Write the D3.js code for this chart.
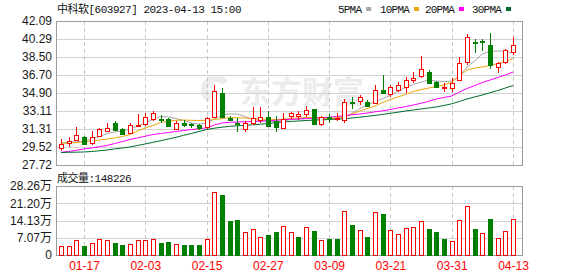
<!DOCTYPE html>
<html>
<head>
<meta charset="utf-8">
<script src="https://cdn.jsdelivr.net/npm/d3@7"></script>
<style>
  body { margin: 0; background: #fff; }
  svg { display: block; }
</style>
</head>
<body>
<svg width="578" height="276"></svg>
<script>
// trading days shown (2023)
var dates = [
  '01-12','01-13','01-16','01-17','01-18','01-19','01-20','01-30','01-31',
  '02-01','02-02','02-03','02-06','02-07','02-08','02-09','02-10','02-13','02-14','02-15',
  '02-16','02-17','02-20','02-21','02-22','02-23','02-24','02-27','02-28',
  '03-01','03-02','03-03','03-06','03-07','03-08','03-09','03-10','03-13','03-14','03-15',
  '03-16','03-17','03-20','03-21','03-22','03-23','03-24','03-27','03-28','03-29','03-30','03-31',
  '04-03','04-04','04-06','04-07','04-10','04-11','04-12','04-13'
];

var open = [29.39,29.88,30.21,30.48,29.88,30.61,31.11,31.94,31.28,30.88,
  31.62,31.81,32.31,32.35,32.28,31.34,31.95,31.80,31.68,31.44,
  32.54,34.93,32.45,31.92,31.38,31.94,32.21,32.48,32.14,31.38,
  32.54,32.58,32.81,33.28,31.81,32.50,32.34,32.21,34.00,34.11,
  34.04,33.88,35.20,34.77,35.20,35.47,36.20,36.60,37.03,36.03,
  35.45,35.47,36.20,37.93,40.00,40.10,39.69,37.53,38.03,39.03];
var high = [30.28,30.48,31.51,30.61,31.11,31.42,31.94,32.14,31.44,31.94,
  32.81,32.88,33.11,32.71,32.38,32.14,32.21,31.94,31.81,32.54,
  35.70,35.45,32.60,32.38,32.10,33.54,33.54,33.14,32.60,32.88,
  33.00,33.11,33.61,33.31,32.61,32.78,32.94,34.28,34.48,34.71,
  34.21,35.70,36.70,35.70,36.03,36.53,37.03,38.60,37.20,36.13,
  35.87,36.37,38.47,40.79,40.26,40.26,40.86,38.03,39.27,40.52];
var low = [29.15,29.55,30.11,29.71,29.71,30.54,31.04,31.21,30.71,30.81,
  31.58,31.61,32.14,31.94,31.51,31.21,31.48,31.44,31.21,31.34,
  32.48,32.38,32.20,31.04,31.04,31.71,31.88,31.54,31.00,31.28,
  32.30,32.21,32.48,31.80,31.64,31.88,32.10,31.88,33.28,33.71,
  33.54,33.81,34.87,34.54,35.04,34.87,35.87,36.37,35.87,35.47,
  35.04,35.04,36.13,37.70,38.93,39.13,37.27,36.87,37.80,38.70];
var close = [29.82,30.08,30.71,29.82,30.48,31.35,31.40,31.28,30.81,31.71,
  31.75,32.48,32.88,32.25,31.61,31.94,31.80,31.72,31.34,32.38,
  35.10,32.54,32.30,31.85,31.94,32.44,32.54,31.54,31.51,32.28,
  32.88,32.80,33.21,31.81,32.48,32.42,32.40,34.04,33.90,34.48,
  33.64,35.20,34.87,35.47,35.70,36.20,36.38,37.27,35.93,35.55,
  35.50,35.93,37.93,40.46,39.92,40.02,37.70,37.93,39.20,39.69];
var volume = [37900,35000,62400,35000,49000,65000,62400,49000,42000,45000,
  62400,62400,65000,49000,53000,45000,42000,42000,42000,65000,
  259000,246000,140000,144000,94000,106000,73000,83000,95000,117000,
  94000,73400,114200,99100,62400,66500,66500,180700,123600,103200,
  74600,176600,168400,103200,85600,111300,115400,139900,107300,95000,
  63600,58300,144000,201000,107300,89700,148000,70500,99100,148226];

var ma5 = [29.94,29.98,30.03,30.11,30.31,30.56,30.86,31.01,31.11,31.31,
  31.61,31.91,32.26,32.56,32.51,32.36,32.16,31.91,31.81,31.88,
  32.31,32.71,32.81,32.81,32.56,32.28,32.18,32.11,32.04,32.11,
  32.26,32.31,32.38,32.46,32.46,32.41,32.38,32.51,32.88,33.36,
  33.71,34.06,34.36,34.66,35.10,35.45,35.75,36.00,36.20,36.10,
  36.03,36.10,36.60,37.50,38.10,38.80,39.05,39.10,39.05,38.90];
var ma10 = [29.88,29.91,29.96,30.03,30.11,30.21,30.31,30.43,30.56,30.76,
  31.11,31.41,31.66,31.96,32.11,32.18,32.21,32.18,32.16,32.18,
  32.26,32.36,32.44,32.44,32.41,32.36,32.31,32.28,32.26,32.28,
  32.38,32.41,32.46,32.43,32.38,32.36,32.41,32.56,32.81,33.11,
  33.36,33.61,33.96,34.26,34.51,34.77,35.05,35.25,35.40,35.55,
  35.70,36.00,36.60,37.20,37.40,37.50,37.65,37.85,38.05,38.35];
var ma20 = [28.99,29.07,29.19,29.32,29.42,29.54,29.67,29.86,30.06,30.26,
  30.43,30.59,30.76,30.86,30.96,31.06,31.16,31.26,31.33,31.43,
  31.71,31.91,31.98,32.01,32.03,32.06,32.09,32.13,32.18,32.23,
  32.28,32.31,32.35,32.39,32.44,32.49,32.56,32.64,32.73,32.81,
  32.91,33.03,33.13,33.26,33.41,33.56,33.71,33.88,34.08,34.31,
  34.46,34.61,35.00,35.35,35.65,35.95,36.20,36.45,36.70,37.00];
var ma30 = [28.96,28.99,29.00,29.02,29.07,29.14,29.22,29.32,29.42,29.52,
  29.67,29.82,29.98,30.14,30.31,30.48,30.68,30.86,31.06,31.26,
  31.39,31.49,31.58,31.63,31.68,31.73,31.79,31.86,31.94,32.01,
  32.07,32.11,32.16,32.20,32.23,32.26,32.29,32.35,32.41,32.49,
  32.58,32.67,32.77,32.88,32.99,33.11,33.21,33.31,33.41,33.51,
  33.66,33.83,34.06,34.31,34.51,34.71,34.93,35.15,35.40,35.65];

var priceTicks = [27.72, 29.52, 31.31, 33.11, 34.90, 36.70, 38.50, 40.29, 42.09];
var volTicks = [0, 70650, 141300, 211950, 282600];
var volTickLabels = ['0', '7.07万', '14.13万', '21.20万', '28.26万'];
var dateTicks = ['01-17', '02-03', '02-15', '02-27', '03-09', '03-21', '03-31', '04-13'];

var maSeries = [
  { name: '5PMA', values: ma5, color: '#a6a6a6' },
  { name: '10PMA', values: ma10, color: '#f0a30a' },
  { name: '20PMA', values: ma20, color: '#ff00ff' },
  { name: '30PMA', values: ma30, color: '#006b2d' }
];

var UP = '#ff0000', DOWN = '#008000';
var sans = "'Liberation Sans', 'Noto Sans CJK SC', sans-serif";
var mono = "'Liberation Mono', 'Noto Sans CJK SC', monospace";

var svg = d3.select('svg');
var left = 56, right = 522;
var priceTop = 21, priceBottom = 165;
var volTop = 186, volBottom = 255;

var x = d3.scalePoint().domain(dates).range([61, 513]);
var y = d3.scaleLinear().domain([27.72, 42.09]).range([priceBottom, priceTop]);
var yv = d3.scaleLinear().domain([0, 282600]).range([volBottom, volTop]);

function px(d) { return Math.round(x(d)) + 0.5; }

// watermark
var wm = svg.append('g').attr('fill', '#ececec');
wm.append('path')
  .attr('transform', 'translate(216,90)')
  .attr('d', d3.arc().innerRadius(8).outerRadius(15).startAngle(-2.6).endAngle(0.9)());
wm.append('text')
  .attr('x', 240).attr('y', 103)
  .attr('font-family', "'Noto Sans CJK SC', sans-serif")
  .attr('font-weight', 'bold')
  .attr('font-size', 31)
  .text('东方财富');

// grids
function panelGrid(yScale, ticks, top, bottom) {
  var g = svg.append('g');
  g.selectAll('line.h')
    .data(ticks.slice(1, -1))
    .enter().append('line')
    .attr('x1', left).attr('x2', right)
    .attr('y1', function(d) { return Math.round(yScale(d)) + 0.5; })
    .attr('y2', function(d) { return Math.round(yScale(d)) + 0.5; })
    .attr('stroke', '#d2d2d2');
  g.selectAll('line.v')
    .data(dateTicks)
    .enter().append('line')
    .attr('x1', px).attr('x2', px)
    .attr('y1', top).attr('y2', bottom)
    .attr('stroke', '#c8c8c8')
    .attr('stroke-dasharray', '4,3');
  g.append('rect')
    .attr('x', left + 0.5).attr('y', top + 0.5)
    .attr('width', right - left).attr('height', bottom - top)
    .attr('fill', 'none')
    .attr('stroke', '#9c9c9c');
}
panelGrid(y, priceTicks, priceTop, priceBottom);
panelGrid(yv, volTicks, volTop, volBottom);

// moving averages
var line = d3.line()
  .x(function(d, i) { return x(dates[i]); })
  .y(function(d) { return y(d); });

svg.append('g').selectAll('path')
  .data(maSeries)
  .enter().append('path')
  .attr('d', function(s) { return line(s.values); })
  .attr('fill', 'none')
  .attr('stroke', function(s) { return s.color; })
  .attr('stroke-width', 1);

// candles
var candles = svg.append('g')
  .attr('shape-rendering', 'crispEdges')
  .selectAll('g')
  .data(dates)
  .enter().append('g');

function isUp(i) { return close[i] >= open[i]; }

candles.append('line')
  .attr('x1', px).attr('x2', px)
  .attr('y1', function(d, i) { return y(high[i]); })
  .attr('y2', function(d, i) { return y(low[i]); })
  .attr('stroke', function(d, i) { return isUp(i) ? UP : DOWN; });

candles.append('rect')
  .attr('x', function(d) { return px(d) - 2; })
  .attr('y', function(d, i) { return Math.round(y(Math.max(open[i], close[i]))) + 0.5; })
  .attr('width', 4)
  .attr('height', function(d, i) {
    return Math.max(0.5, Math.round(Math.abs(y(open[i]) - y(close[i]))));
  })
  .attr('fill', function(d, i) { return isUp(i) ? '#fff' : DOWN; })
  .attr('stroke', function(d, i) { return isUp(i) ? UP : DOWN; });

// volume bars, coloured by close versus previous close
function volUp(i) { return i === 0 ? isUp(0) : close[i] >= close[i - 1]; }

svg.append('g')
  .attr('shape-rendering', 'crispEdges')
  .selectAll('rect')
  .data(volume)
  .enter().append('rect')
  .attr('x', function(d, i) { return px(dates[i]) - 2; })
  .attr('y', function(d) { return Math.round(yv(d)) + 0.5; })
  .attr('width', 4)
  .attr('height', function(d) { return volBottom - Math.round(yv(d)) - 0.5; })
  .attr('fill', function(d, i) { return volUp(i) ? '#fff' : DOWN; })
  .attr('stroke', function(d, i) { return volUp(i) ? UP : DOWN; });

// axes
function styleAxis(g, color, size, family) {
  g.select('.domain').remove();
  g.selectAll('text')
    .attr('fill', color)
    .attr('font-size', size)
    .attr('font-family', family);
}

svg.append('g')
  .attr('transform', 'translate(' + left + ',0)')
  .call(d3.axisLeft(y).tickValues(priceTicks).tickFormat(d3.format('.2f')).tickSize(0).tickPadding(4))
  .call(styleAxis, '#1a1a1a', 12, sans);

svg.append('g')
  .attr('transform', 'translate(' + left + ',0)')
  .call(d3.axisLeft(yv).tickValues(volTicks)
    .tickFormat(function(d, i) { return volTickLabels[i]; })
    .tickSize(0).tickPadding(4))
  .call(styleAxis, '#1a1a1a', 12, sans);

svg.append('g')
  .attr('transform', 'translate(0,' + volBottom + ')')
  .call(d3.axisBottom(x).tickValues(dateTicks).tickSize(0).tickPadding(6))
  .call(styleAxis, UP, 12, sans);

// title and volume caption
svg.append('text')
  .attr('x', 57).attr('y', 13)
  .attr('font-family', mono).attr('font-size', 11)
  .attr('letter-spacing', '-0.5px')
  .attr('fill', '#111')
  .text('中科软[603927] 2023-04-13 15:00');

svg.append('text')
  .attr('x', 57).attr('y', 182)
  .attr('font-family', mono).attr('font-size', 11)
  .attr('letter-spacing', '-0.5px')
  .attr('fill', '#111')
  .text('成交量:' + volume[volume.length - 1]);

// legend
var legendX = [338, 380, 425, 472];
var legend = svg.append('g').selectAll('g')
  .data(maSeries)
  .enter().append('g')
  .attr('transform', function(d, i) { return 'translate(' + legendX[i] + ',0)'; });

legend.append('text')
  .attr('y', 13)
  .attr('font-family', mono).attr('font-size', 11)
  .attr('letter-spacing', '-0.8px')
  .attr('fill', '#111')
  .text(function(d) { return d.name; });

legend.append('rect')
  .attr('x', function(d) { return d.name.length * 5.8 + 5; })
  .attr('y', 7)
  .attr('width', 5).attr('height', 4)
  .attr('fill', function(d) { return d.color; });
</script>
</body>
</html>
